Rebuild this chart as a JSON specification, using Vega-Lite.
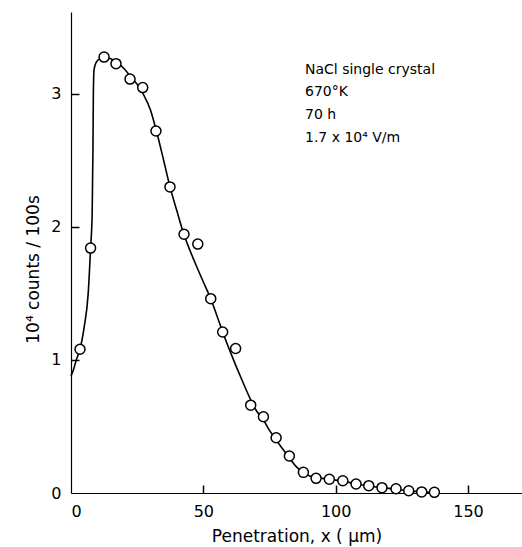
{
  "$schema": "https://vega.github.io/schema/vega-lite/v6.json",
  "width": 451,
  "height": 481,
  "autosize": {"type": "none"},
  "padding": {"left": 71, "top": 12, "right": 0, "bottom": 54},
  "background": "white",
  "config": {
    "view": {"stroke": null},
    "font": "DejaVu Sans",
    "axis": {
      "grid": false,
      "domainColor": "black",
      "domainWidth": 1.2,
      "tickColor": "black",
      "tickWidth": 1.5,
      "labelFont": "DejaVu Sans",
      "labelFontSize": 16,
      "labelColor": "black",
      "titleFont": "DejaVu Sans",
      "titleFontSize": 17,
      "titleFontWeight": "normal",
      "titleColor": "black"
    }
  },
  "resolve": {"axis": {"x": "independent", "y": "independent"}},
  "datasets": {
    "curve": [
      {"x": 0, "y": 0.88}, {"x": 1, "y": 0.93}, {"x": 2, "y": 1.0}, {"x": 3.4, "y": 1.08},
      {"x": 5, "y": 1.25}, {"x": 6.5, "y": 1.5}, {"x": 7.4, "y": 1.84}, {"x": 8.0, "y": 2.1},
      {"x": 8.3, "y": 2.6}, {"x": 8.45, "y": 3.0}, {"x": 8.7, "y": 3.18}, {"x": 9.5, "y": 3.235},
      {"x": 11, "y": 3.265}, {"x": 12.5, "y": 3.275}, {"x": 15, "y": 3.262}, {"x": 17, "y": 3.24},
      {"x": 20, "y": 3.19}, {"x": 22.5, "y": 3.13}, {"x": 25, "y": 3.07}, {"x": 27.5, "y": 2.99},
      {"x": 30, "y": 2.88}, {"x": 32, "y": 2.74}, {"x": 35, "y": 2.5}, {"x": 37.4, "y": 2.3},
      {"x": 40, "y": 2.12}, {"x": 42.7, "y": 1.94}, {"x": 45, "y": 1.82}, {"x": 47.5, "y": 1.7},
      {"x": 50, "y": 1.585}, {"x": 52.8, "y": 1.46}, {"x": 55, "y": 1.34}, {"x": 57.3, "y": 1.21},
      {"x": 60, "y": 1.07}, {"x": 65, "y": 0.83}, {"x": 67.9, "y": 0.7}, {"x": 70, "y": 0.62},
      {"x": 72.7, "y": 0.55}, {"x": 75, "y": 0.47}, {"x": 77.5, "y": 0.4}, {"x": 80, "y": 0.33},
      {"x": 82.5, "y": 0.265}, {"x": 85, "y": 0.2}, {"x": 87.8, "y": 0.155}, {"x": 90, "y": 0.13},
      {"x": 95, "y": 0.11}, {"x": 100, "y": 0.097}, {"x": 105, "y": 0.08}, {"x": 110, "y": 0.06},
      {"x": 115, "y": 0.045}, {"x": 120, "y": 0.035}, {"x": 125, "y": 0.022}, {"x": 130, "y": 0.012},
      {"x": 135, "y": 0.005}, {"x": 137.3, "y": 0.003}
    ],
    "pts": [
      {"x": 3.4, "y": 1.08}, {"x": 7.4, "y": 1.84}, {"x": 12.5, "y": 3.275}, {"x": 17.0, "y": 3.226},
      {"x": 22.3, "y": 3.11}, {"x": 27.1, "y": 3.046}, {"x": 32.1, "y": 2.72}, {"x": 37.4, "y": 2.3},
      {"x": 42.7, "y": 1.944}, {"x": 47.9, "y": 1.87}, {"x": 52.8, "y": 1.46}, {"x": 57.3, "y": 1.21},
      {"x": 62.2, "y": 1.086}, {"x": 67.9, "y": 0.66}, {"x": 72.7, "y": 0.573}, {"x": 77.5, "y": 0.415},
      {"x": 82.5, "y": 0.278}, {"x": 87.8, "y": 0.155}, {"x": 92.6, "y": 0.11}, {"x": 97.6, "y": 0.103},
      {"x": 102.7, "y": 0.092}, {"x": 107.7, "y": 0.068}, {"x": 112.5, "y": 0.055}, {"x": 117.5, "y": 0.04},
      {"x": 122.8, "y": 0.032}, {"x": 127.6, "y": 0.017}, {"x": 132.5, "y": 0.008}, {"x": 137.3, "y": 0.005}
    ]
  },
  "layer": [
    {
      "data": {"name": "curve"},
      "mark": {"type": "line", "color": "black", "strokeWidth": 1.6, "interpolate": "monotone"},
      "encoding": {
        "x": {
          "field": "x", "type": "quantitative",
          "scale": {"domain": [0, 170.4], "nice": false, "zero": false},
          "axis": {
            "values": [0, 50, 100, 150],
            "format": "d",
            "ticks": false,
            "labelPadding": 10,
            "title": "Penetration, x ( μm)",
            "titleY": 35,
            "titleBaseline": "top"
          }
        },
        "y": {
          "field": "y", "type": "quantitative",
          "scale": {"domain": [0, 3.614], "nice": false, "zero": false},
          "axis": {
            "values": [0, 1, 2, 3],
            "format": "d",
            "ticks": false,
            "labelPadding": 10,
            "title": "10⁴ counts / 100s",
            "titleX": -33,
            "titleY": 257,
            "titleAlign": "center",
            "titleBaseline": "alphabetic",
            "titleAngle": -90
          }
        }
      }
    },
    {
      "data": {"name": "pts"},
      "mark": {"type": "point", "shape": "circle", "filled": true, "fill": "white", "stroke": "black", "strokeWidth": 1.5, "size": 100, "opacity": 1},
      "encoding": {
        "x": {
          "field": "x", "type": "quantitative",
          "axis": {"orient": "top", "offset": -481, "values": [50, 100, 150], "labels": false, "domain": false, "ticks": true, "tickSize": 8, "title": null}
        },
        "y": {
          "field": "y", "type": "quantitative",
          "axis": {"orient": "right", "offset": -451, "values": [1, 2, 3], "labels": false, "domain": false, "ticks": true, "tickSize": 8, "title": null}
        }
      }
    },
    {
      "data": {"values": [{}]},
      "mark": {
        "type": "text",
        "align": "left",
        "baseline": "middle",
        "font": "DejaVu Sans",
        "fontSize": 14,
        "color": "black",
        "lineHeight": 22.7,
        "text": ["NaCl single crystal", "670°K", "70 h", "1.7 x 10⁴ V/m"]
      },
      "encoding": {
        "x": {"datum": 88.4, "type": "quantitative", "axis": null},
        "y": {"datum": 3.18, "type": "quantitative", "axis": null}
      }
    }
  ]
}
